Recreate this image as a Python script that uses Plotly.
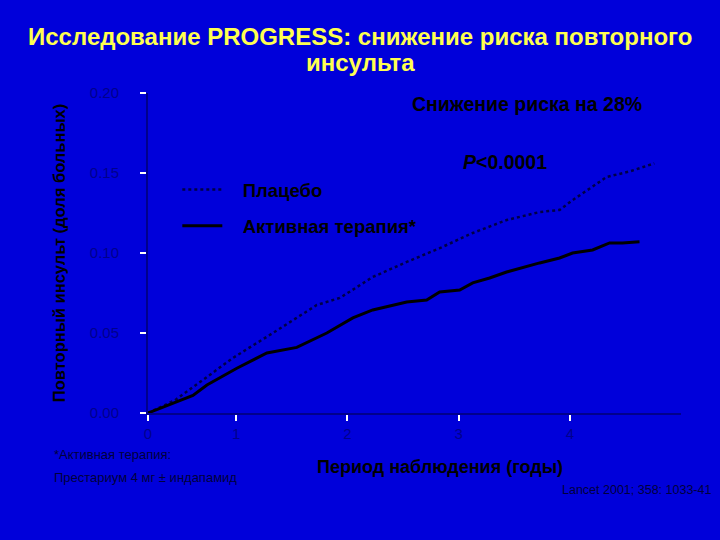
import plotly.graph_objects as go

# Data (years, proportion of patients)
placebo_x = [0.207, 0.45, 0.737, 0.97, 1.33, 1.725, 1.932, 2.228, 2.534, 2.83, 3.127, 3.432, 3.729, 3.908, 4.025, 4.331, 4.54, 4.76]
placebo_y = [0.0, 0.008, 0.0225, 0.0344, 0.050, 0.0675, 0.0719, 0.085, 0.0944, 0.103, 0.1125, 0.1206, 0.1256, 0.1269, 0.133, 0.1475, 0.151, 0.156]

active_x = [0.207, 0.431, 0.611, 0.737, 1.006, 1.276, 1.545, 1.815, 2.049, 2.228, 2.534, 2.713, 2.83, 3.01, 3.127, 3.279, 3.432, 3.729, 3.908, 4.025, 4.205, 4.358, 4.474, 4.627]
active_y = [0.0, 0.00625, 0.011, 0.0175, 0.028, 0.0375, 0.041, 0.05, 0.0594, 0.0644, 0.0694, 0.0706, 0.0756, 0.0769, 0.0813, 0.0844, 0.0881, 0.0938, 0.0969, 0.1, 0.1019, 0.1063, 0.1063, 0.107]

x_tickvals = [0.207, 1, 2, 3, 4]
x_ticktext = ["0", "1", "2", "3", "4"]
y_tickvals = [0.0, 0.05, 0.10, 0.15, 0.20]
y_ticktext = ["0.00", "0.05", "0.10", "0.15", "0.20"]

title_lines = ["Исследование PROGRESS: снижение риска повторного", "инсульта"]

BG = "rgb(0,0,218)"
DARK = "rgb(0,0,140)"
FONT = "Liberation Sans, Arial, sans-serif"
NB = "\u00a0"

fig = go.Figure()
fig.add_trace(go.Scatter(
    x=placebo_x, y=placebo_y, mode="lines", name=NB * 3 + "<b>Плацебо</b>",
    line=dict(color="rgb(0,0,70)", width=2.5, dash="dot"), legend="legend", showlegend=True))
fig.add_trace(go.Scatter(
    x=active_x, y=active_y, mode="lines", name=NB * 3 + "<b>Активная терапия*</b>",
    line=dict(color="black", width=3), legend="legend2", showlegend=True))

leg_common = dict(bgcolor="rgba(0,0,0,0)", font=dict(family=FONT, size=18.5, color="black"),
                  xanchor="left", yanchor="middle", itemwidth=40)
fig.update_layout(
    width=720, height=540, showlegend=True,
    paper_bgcolor=BG, plot_bgcolor=BG,
    margin=dict(l=148, r=39, t=93, b=127),
    font=dict(family=FONT, color="black"),
    legend=dict(x=0.055, y=0.697, **leg_common),
    legend2=dict(x=0.055, y=0.584, **leg_common),
    xaxis=dict(range=[0.207, 5.0], tickvals=x_tickvals, ticktext=x_ticktext,
               showgrid=False, zeroline=False, showline=True, linecolor=DARK, linewidth=2,
               ticks="outside", tickcolor="white", ticklen=6, tickwidth=2,
               tickfont=dict(family=FONT, size=15, color=DARK)),
    yaxis=dict(range=[0, 0.2], tickvals=y_tickvals, ticktext=y_ticktext,
               showgrid=False, zeroline=False, showline=True, linecolor=DARK, linewidth=2,
               ticks="outside", tickcolor="white", ticklen=6, tickwidth=2,
               ticklabelstandoff=18,
               tickfont=dict(family=FONT, size=15, color=DARK),
               title=dict(text="<b>Повторный инсульт (доля больных)</b>", standoff=20,
                          font=dict(family=FONT, size=16.5, color="black"))),
)

for txt, yy in zip(title_lines, [1.175, 1.094]):
    fig.add_annotation(text="<b>" + txt + "</b>", xref="paper", yref="paper",
                       x=(360 - 148) / 533, y=yy, xanchor="center", yanchor="middle",
                       showarrow=False, font=dict(family=FONT, size=24, color="rgb(255,255,80)"))

fig.add_annotation(text="<b>Снижение риска на 28%</b>", xref="paper", yref="paper",
                   x=0.711, y=0.965, xanchor="center", yanchor="middle", showarrow=False,
                   font=dict(family=FONT, size=19.5, color="black"))
fig.add_annotation(text="<b><i>P</i><0.0001</b>", xref="paper", yref="paper",
                   x=0.67, y=0.784, xanchor="center", yanchor="middle", showarrow=False,
                   font=dict(family=FONT, size=19.5, color="black"))
fig.add_annotation(text="<b>Период наблюдения (годы)</b>", xref="paper", yref="paper",
                   x=0.548, y=-0.17, xanchor="center", yanchor="middle", showarrow=False,
                   font=dict(family=FONT, size=18, color="black"))
fig.add_annotation(text="*Активная терапия:", xref="paper", yref="paper",
                   x=-0.18, y=-0.131, xanchor="left", yanchor="middle", showarrow=False, align="left",
                   font=dict(family=FONT, size=13, color="rgb(0,0,60)"))
fig.add_annotation(text="Престариум 4 мг ± индапамид", xref="paper", yref="paper",
                   x=-0.18, y=-0.2, xanchor="left", yanchor="middle", showarrow=False, align="left",
                   font=dict(family=FONT, size=13, color="rgb(0,0,60)"))
fig.add_annotation(text="Lancet 2001; 358: 1033-41", xref="paper", yref="paper",
                   x=1.06, y=-0.24, xanchor="right", yanchor="middle", showarrow=False,
                   font=dict(family=FONT, size=12.5, color="rgb(0,0,60)"))

fig.write_html("out.html", config={"displayModeBar": False},
               post_script="document.body.style.margin='0';document.body.style.background='" + BG + "';")
